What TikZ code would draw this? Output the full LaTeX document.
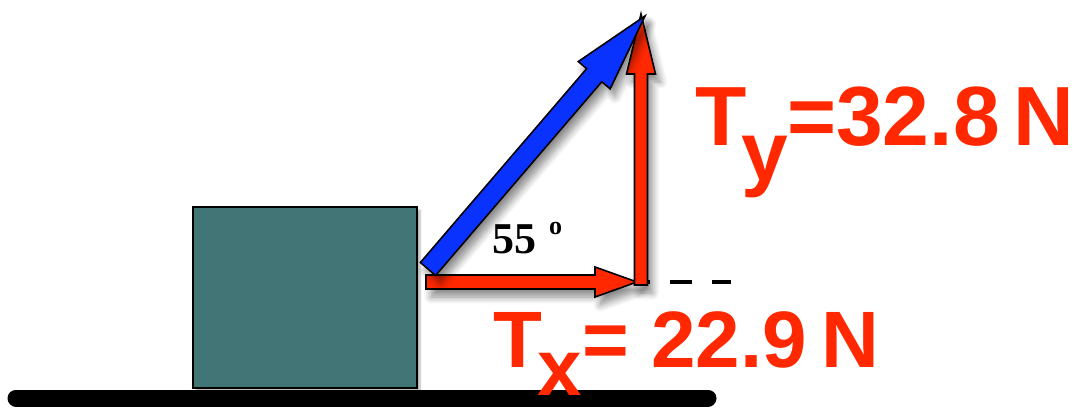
\documentclass[tikz,border=0pt]{standalone}
\usepackage{fontspec}
\setmainfont{Liberation Serif}
\newfontfamily\lsans{Liberation Sans}
\usepackage{tikz}
\usetikzlibrary{calc, shadows.blur}

\definecolor{hopxanh}{RGB}{66,118,118}
\definecolor{lucdo}{RGB}{255,40,0}
\definecolor{lucxanh}{RGB}{10,50,255}

\tikzset{
  hop/.style={draw=black, line width=1.5pt, fill=hopxanh,
    blur shadow={shadow opacity=30, shadow xshift=3pt, shadow yshift=-3pt, shadow blur steps=6}},
  vienmuiten/.style={draw=black, line width=1.6pt, line join=miter,
    blur shadow={shadow opacity=45, shadow xshift=5pt, shadow yshift=-8pt,
      shadow blur radius=7pt, shadow blur steps=8}},
  nhan/.style={inner sep=0pt, anchor=base west},
  nhando/.style={nhan, text=lucdo, font=\lsans\bfseries\fontsize{80}{80}\selectfont}
}

% mui ten to: diem dau, dinh, nua be rong than, nua be rong dau, dai dau, mau
\newcommand{\muiten}[6]{%
  \coordinate (goc) at ($(#2)!#5!(#1)$);
  \draw[vienmuiten, fill=#6]
    ($(#1)!#3!90:(#2)$) -- ($(goc)!#3!-90:(#1)$) -- ($(goc)!#4!-90:(#1)$)
    -- (#2) -- ($(goc)!#4!90:(#1)$) -- ($(goc)!#3!90:(#1)$)
    -- ($(#1)!#3!-90:(#2)$) -- cycle;}

\begin{document}
\begin{tikzpicture}[x=1pt, y=-1pt]
    \useasboundingbox (0,0) rectangle (1074,410);

    % Mat dat
    \coordinate (datT) at (16,398);
    \coordinate (datP) at (708,398);
    \draw[line width=17pt, line cap=round] (datT) -- (datP);

    % Khoi hop
    \draw[hop] (193,207) rectangle (417,388);

    % Cac diem
    \coordinate (xanhO) at (428,269);
    \coordinate (dinh) at (645,16);
    \coordinate (doO) at (426,282);
    \coordinate (goc90) at (637,282);
    \coordinate (dungO) at (641,285);
    \coordinate (dungdinh) at (641,14);

    % Duong net dut
    \coordinate (netdut) at (731,282);
    \draw[line width=4pt, dash pattern=on 22pt off 20pt] (628,282) -- (netdut);

    % Cac vecto luc
    \muiten{doO}{goc90}{7pt}{15pt}{42pt}{lucdo}
    \muiten{dungO}{dungdinh}{6.5pt}{14.5pt}{60pt}{lucdo}
    \muiten{xanhO}{dinh}{10pt}{21pt}{78pt}{lucxanh}

    % Goc
    \node[nhan, font=\bfseries\fontsize{44}{44}\selectfont] (goc55) at (492,253) {55};
    \node[nhan, font=\bfseries\fontsize{26}{26}\selectfont] (do) at (549,234) {o};

    % Nhan thanh phan
    \node[nhando] (Tx) at (493,367) {T\kern-5pt\raisebox{-28pt}{x}\kern1pt= 22.9\kern-8pt{} N};
    \node[nhando, font=\lsans\bfseries\fontsize{84}{84}\selectfont] (Ty) at (695,145)
        {T\kern-5pt\raisebox{-35pt}{y}\kern-1pt=32.8\kern-10pt{} N};
\end{tikzpicture}
\end{document}
